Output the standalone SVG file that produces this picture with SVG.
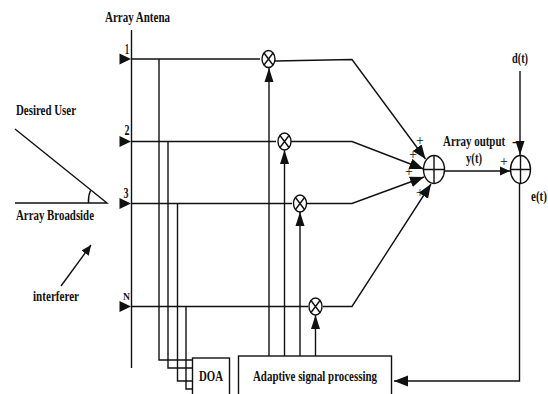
<svg xmlns="http://www.w3.org/2000/svg" width="548" height="394" viewBox="0 0 548 394">
<style>
text{font-family:"Liberation Serif",serif;font-weight:bold;font-size:14px;fill:#111}
.l{fill:none;stroke:#111;stroke-width:1.4}
.n{fill:#fff;stroke:#111;stroke-width:1.4}
.plus{font-weight:normal;font-size:14px;text-anchor:middle}
</style>
<defs>
<marker id="a" markerUnits="userSpaceOnUse" markerWidth="15" markerHeight="10" refX="14" refY="5" orient="auto"><path d="M0 0.500L14 5L0 9.500Z" fill="#111"/></marker>
<marker id="b" markerUnits="userSpaceOnUse" markerWidth="15" markerHeight="12" refX="14" refY="6" orient="auto"><path d="M0 0.500L14 6L0 11.500Z" fill="#111"/></marker>
<marker id="s" markerUnits="userSpaceOnUse" markerWidth="11" markerHeight="10" refX="10" refY="5" orient="auto"><path d="M0 0.500L10 5L0 9.500Z" fill="#111"/></marker>
</defs>
<g id="connectors">
<path class="l" d="M131.500 30V368"/>
<path class="l" d="M131 59H260M131 141.500H276M131 203.500H292M131 306.500H308"/>
<path class="l" d="M159 59V360H192.500M168 141.500V368H192.500M177.500 203.500V381H192.500M186 306.500V389H192.500"/>
<path class="l" d="M275 61L352 59.500L425.500 159" marker-end="url(#b)"/>
<path class="l" d="M291 141.500H352L423.500 169" marker-end="url(#b)"/>
<path class="l" d="M307 203.500H352L424 177" marker-end="url(#b)"/>
<path class="l" d="M323 306.500H352L431 184" marker-end="url(#b)"/>
<path class="l" d="M269 356V68" marker-end="url(#a)"/>
<path class="l" d="M284.500 356V150" marker-end="url(#a)"/>
<path class="l" d="M300 356V212" marker-end="url(#a)"/>
<path class="l" d="M315.500 356V315" marker-end="url(#a)"/>
<path class="l" d="M444.500 171H510" marker-end="url(#s)"/>
<path class="l" d="M520 71V155" marker-end="url(#a)"/>
<path class="l" d="M519.500 183V381H394" marker-end="url(#b)"/>
<path class="l" d="M15 129L107 203H15"/>
<path class="l" d="M90.500 190.500Q88 196 88.500 203"/>
<path class="l" d="M61 286L91 245" marker-end="url(#s)"/>
<path d="M119.500 53.500L131 59L119.500 64.500ZM119.500 136L131 141.500L119.500 147ZM119.500 198L131 203.500L119.500 209ZM119.500 301L131 306.500L119.500 312Z" fill="#111"/>
</g>
<g id="mult1"><ellipse class="n" cx="268.500" cy="59" rx="6.500" ry="8.500"/><path class="l" d="M264 53L273 65M273 53L264 65"/></g>
<g id="mult2"><ellipse class="n" cx="284.500" cy="141.500" rx="6.500" ry="8.500"/><path class="l" d="M280 135.500L289 147.500M289 135.500L280 147.500"/></g>
<g id="mult3"><ellipse class="n" cx="300" cy="203.500" rx="6.500" ry="8.500"/><path class="l" d="M295.500 197.500L304.500 209.500M304.500 197.500L295.500 209.500"/></g>
<g id="multN"><ellipse class="n" cx="315.500" cy="306.500" rx="6.500" ry="8.500"/><path class="l" d="M311 300.500L320 312.500M320 300.500L311 312.500"/></g>
<g id="sum1"><ellipse class="n" cx="434" cy="169.500" rx="10.500" ry="14"/><path class="l" d="M423.500 169.500H444.500M434 155.500V183.500"/></g>
<g id="sum2"><ellipse class="n" cx="520.500" cy="169.500" rx="10" ry="14"/><path class="l" d="M510.500 169.500H530.500M520.500 155.500V183.500"/></g>
<g id="doa"><rect class="n" x="192.500" y="358" width="37" height="44"/><text x="199" y="381" textLength="24" lengthAdjust="spacingAndGlyphs">DOA</text></g>
<g id="asp"><rect class="n" x="238.500" y="356" width="153" height="46"/><text x="253" y="381" textLength="124" lengthAdjust="spacingAndGlyphs">Adaptive signal processing</text></g>
<g id="labels">
<text x="105" y="22" textLength="65" lengthAdjust="spacingAndGlyphs">Array Antena</text>
<text x="16" y="115" textLength="60" lengthAdjust="spacingAndGlyphs">Desired User</text>
<text x="16" y="220" textLength="78" lengthAdjust="spacingAndGlyphs">Array Broadside</text>
<text x="33" y="301" textLength="46" lengthAdjust="spacingAndGlyphs">interferer</text>
<text x="125" y="54" textLength="4" lengthAdjust="spacingAndGlyphs">1</text>
<text x="124.500" y="135" textLength="5" lengthAdjust="spacingAndGlyphs">2</text>
<text x="123.500" y="198" textLength="5" lengthAdjust="spacingAndGlyphs">3</text>
<text x="123" y="300" textLength="7" lengthAdjust="spacingAndGlyphs" style="font-size:11px">N</text>
<text transform="translate(443 145.500) scale(.78 1)">Array output</text>
<text x="466" y="163" textLength="16" lengthAdjust="spacingAndGlyphs">y(t)</text>
<text x="512" y="63" textLength="16" lengthAdjust="spacingAndGlyphs">d(t)</text>
<text transform="translate(531 201) scale(.79 1)">e(t)</text>
<text x="512" y="146">-</text>
<text class="plus" x="420" y="145">+</text>
<text class="plus" x="413" y="159">+</text>
<text class="plus" x="409" y="176">+</text>
<text class="plus" x="420" y="197">+</text>
<text class="plus" x="504" y="166">+</text>
</g>
</svg>
